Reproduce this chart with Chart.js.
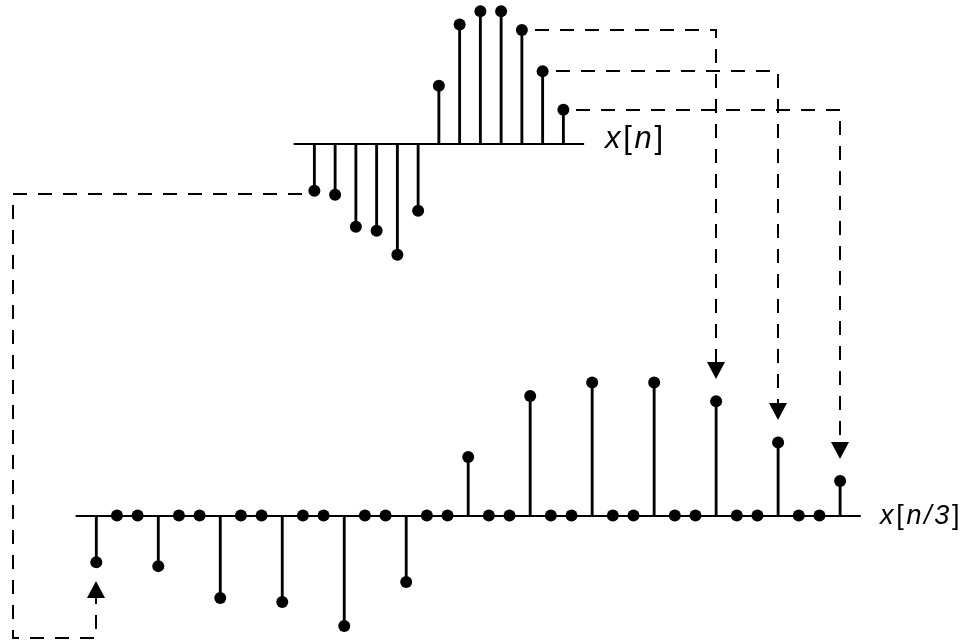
<!DOCTYPE html>
<html>
<head>
<meta charset="utf-8">
<script src="https://cdn.jsdelivr.net/npm/chart.js@4.4.1/dist/chart.umd.min.js"></script>
<style>
  html, body { margin: 0; padding: 0; background: #fff; }
  #wrap { width: 962px; height: 641px; }
</style>
</head>
<body>
<div id="wrap"><canvas id="chart" width="962" height="641"></canvas></div>
<script>
// x[n] : 13 samples
const nTop = [0, 1, 2, 3, 4, 5, 6, 7, 8, 9, 10, 11, 12];
const xn = [-0.35, -0.38, -0.62, -0.65, -0.83, -0.50, 0.44, 0.90, 1.00, 1.00, 0.86, 0.55, 0.26];

// x[n/3] : two zeros between every original sample
const nBot = [
  0, 1, 2, 3, 4, 5, 6, 7, 8, 9, 10, 11, 12, 13, 14, 15, 16, 17, 18,
  19, 20, 21, 22, 23, 24, 25, 26, 27, 28, 29, 30, 31, 32, 33, 34, 35, 36
];
const xn3 = [
  -0.35, 0, 0, -0.38, 0, 0, -0.62, 0, 0, -0.65, 0, 0, -0.83, 0, 0, -0.50, 0, 0,
  0.44, 0, 0, 0.90, 0, 0, 1.00, 0, 0, 1.00, 0, 0, 0.86, 0, 0, 0.55, 0, 0, 0.26
];

// dashed arrows: [index in x[n], index in x[n/3]]
const links = [[0, 0], [10, 30], [11, 33], [12, 36]];

// axis labels, [text, italic]
const topLabel = [['x', true], ['[', false], ['n', true], [']', false]];
const botLabel = [['x', true], ['[', false], ['n/3', true], [']', false]];

const pts = (xs, ys) => xs.map((x, i) => ({ x, y: ys[i] }));

function drawLabel(ctx, parts, x, y, size) {
  ctx.fillStyle = '#000';
  ctx.textBaseline = 'alphabetic';
  ctx.textAlign = 'left';
  parts.forEach(([txt, ital]) => {
    ctx.font = `${ital ? 'italic ' : ''}${size}px "Liberation Sans", Arial, sans-serif`;
    for (const ch of txt) {
      ctx.fillText(ch, x, y);
      x += ctx.measureText(ch).width + 2.7;
    }
  });
}

function arrowHead(ctx, x, tipY, dir) {
  // dir = 1 points down, -1 points up
  ctx.beginPath();
  ctx.moveTo(x, tipY);
  ctx.lineTo(x - 9, tipY - dir * 17);
  ctx.lineTo(x + 9, tipY - dir * 17);
  ctx.closePath();
  ctx.fill();
}

const diagram = {
  id: 'diagram',
  beforeDatasetsDraw(chart) {
    const { ctx } = chart;
    const { xTop, yTop, xBot, yBot } = chart.scales;
    const r = Math.round;
    ctx.save();
    ctx.strokeStyle = '#000';
    ctx.fillStyle = '#000';
    ctx.lineWidth = 2;

    // baselines run one sample past each end
    const y0t = r(yTop.getPixelForValue(0));
    ctx.beginPath();
    ctx.moveTo(xTop.getPixelForValue(nTop[0] - 1), y0t);
    ctx.lineTo(xTop.getPixelForValue(nTop[nTop.length - 1] + 1), y0t);
    ctx.stroke();

    const y0b = r(yBot.getPixelForValue(0));
    ctx.beginPath();
    ctx.moveTo(xBot.getPixelForValue(nBot[0] - 1), y0b);
    ctx.lineTo(xBot.getPixelForValue(nBot[nBot.length - 1] + 1), y0b);
    ctx.stroke();

    // dashed links from x[n] down to x[n/3]
    links.forEach(([n, k]) => {
      const xa = r(xTop.getPixelForValue(nTop[n]));
      const ya = r(yTop.getPixelForValue(xn[n]));
      const xb = r(xBot.getPixelForValue(nBot[k]));
      const yb = r(yBot.getPixelForValue(xn3[k]));
      ctx.setLineDash([14, 11]);
      ctx.beginPath();
      if (xb > xa) {
        const tip = yb - 22;
        ctx.moveTo(xa + 13, ya);
        ctx.lineTo(xb, ya);
        ctx.lineTo(xb, tip - 16);
        ctx.stroke();
        ctx.setLineDash([]);
        arrowHead(ctx, xb, tip, 1);
      } else {
        const tip = yb + 19;
        ctx.moveTo(xa - 12, ya + 3);
        ctx.lineTo(13, ya + 3);
        ctx.lineTo(13, 638);
        ctx.lineTo(xb, 638);
        ctx.lineTo(xb, tip + 16);
        ctx.stroke();
        ctx.setLineDash([]);
        arrowHead(ctx, xb, tip, -1);
      }
    });

    drawLabel(ctx, topLabel, 605, 148, 31);
    drawLabel(ctx, botLabel, 880, 524, 27);
    ctx.restore();
  }
};

new Chart(document.getElementById('chart'), {
  type: 'bar',
  data: {
    datasets: [
      {
        type: 'scatter', data: pts(nTop, xn), xAxisID: 'xTop', yAxisID: 'yTop',
        pointRadius: 6, pointBackgroundColor: '#000', pointBorderWidth: 0
      },
      {
        type: 'scatter', data: pts(nBot, xn3), xAxisID: 'xBot', yAxisID: 'yBot',
        pointRadius: 6, pointBackgroundColor: '#000', pointBorderWidth: 0
      },
      {
        type: 'bar', data: pts(nTop, xn), xAxisID: 'xTop', yAxisID: 'yTop',
        backgroundColor: '#000', borderWidth: 0, barThickness: 2.2, grouped: false
      },
      {
        type: 'bar', data: pts(nBot, xn3), xAxisID: 'xBot', yAxisID: 'yBot',
        backgroundColor: '#000', borderWidth: 0, barThickness: 2.2, grouped: false
      }
    ]
  },
  options: {
    responsive: false,
    devicePixelRatio: 1,
    animation: false,
    events: [],
    layout: { padding: 0, autoPadding: false },
    plugins: { legend: { display: false }, tooltip: { enabled: false } },
    scales: {
      xTop: { type: 'linear', display: false, min: -15.15, max: 31.21, offset: false },
      yTop: { type: 'linear', display: false, min: -3.735, max: 1.085 },
      xBot: { type: 'linear', display: false, min: -4.661, max: 41.90, offset: false },
      yBot: { type: 'linear', display: false, min: -0.943, max: 3.877 }
    }
  },
  plugins: [diagram]
});
</script>
</body>
</html>
